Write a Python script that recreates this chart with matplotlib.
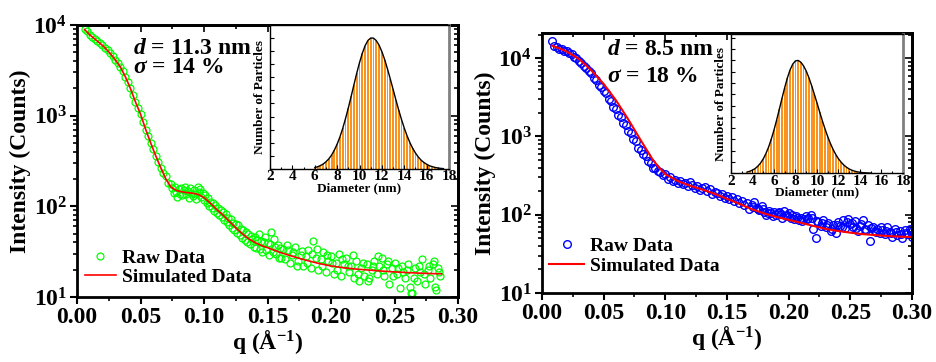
import matplotlib
matplotlib.use('Agg')
import matplotlib.pyplot as plt
from matplotlib.ticker import (FixedLocator, FixedFormatter, LogLocator, MultipleLocator,
                               NullFormatter, FormatStrFormatter)

plt.rcParams['font.family'] = 'Liberation Serif'
plt.rcParams['font.weight'] = 'bold'
plt.rcParams['axes.labelweight'] = 'bold'
plt.rcParams['mathtext.fontset'] = 'custom'
plt.rcParams['mathtext.rm'] = 'Liberation Serif:bold'
plt.rcParams['mathtext.bf'] = 'Liberation Serif:bold'
plt.rcParams['mathtext.it'] = 'Liberation Serif:italic:bold'

# ---------------- data: left panel (d = 11.3 nm) ----------------
q_raw_l = [0.006, 0.008, 0.010, 0.012, 0.014, 0.016, 0.018, 0.020, 0.022, 0.024, 0.026, 0.028,
           0.030, 0.032, 0.034, 0.036, 0.038, 0.040, 0.042, 0.044, 0.046, 0.048, 0.050, 0.052,
           0.054, 0.056, 0.058, 0.060, 0.062, 0.064, 0.066, 0.068, 0.070, 0.072,
           0.074, 0.075, 0.076, 0.077, 0.078, 0.079, 0.080, 0.081, 0.082, 0.083, 0.084, 0.085,
           0.086, 0.087, 0.088, 0.089, 0.090, 0.091, 0.092, 0.093, 0.094, 0.095, 0.096, 0.097,
           0.098, 0.099, 0.100, 0.101, 0.102, 0.103, 0.104, 0.105, 0.106, 0.107, 0.108, 0.109,
           0.110, 0.111, 0.112, 0.113, 0.114, 0.115, 0.116, 0.117, 0.118, 0.119, 0.120, 0.121,
           0.122, 0.123, 0.124, 0.125, 0.126, 0.127, 0.128, 0.129, 0.130, 0.131, 0.132, 0.133,
           0.134, 0.135, 0.136, 0.137, 0.138, 0.139, 0.140, 0.141, 0.142, 0.143, 0.144, 0.145,
           0.146, 0.147, 0.148, 0.149, 0.150, 0.151, 0.152, 0.153, 0.154, 0.155, 0.156, 0.157,
           0.158, 0.159, 0.160,
           0.162, 0.164, 0.166, 0.168, 0.170, 0.172, 0.174, 0.176, 0.178, 0.180, 0.182, 0.184,
           0.186, 0.188, 0.190, 0.192, 0.194, 0.196, 0.198, 0.200, 0.202, 0.204, 0.206, 0.208,
           0.210, 0.212, 0.214, 0.216, 0.218, 0.220, 0.222, 0.224, 0.226, 0.228, 0.230, 0.232,
           0.234, 0.236, 0.238, 0.240, 0.242, 0.244, 0.246, 0.248, 0.250, 0.252, 0.254, 0.256,
           0.258, 0.260, 0.262, 0.264, 0.266, 0.268, 0.270, 0.272, 0.274, 0.276, 0.278, 0.280,
           0.282, 0.284, 0.286,
           0.161, 0.165, 0.169, 0.173, 0.177, 0.181, 0.185, 0.189, 0.193, 0.197, 0.201, 0.205,
           0.209, 0.213, 0.217, 0.221, 0.225, 0.229, 0.233, 0.237, 0.241, 0.245, 0.249, 0.253,
           0.257, 0.261, 0.265, 0.269, 0.273, 0.277, 0.281, 0.285, 0.263, 0.283]
I_raw_l = [9000, 8500, 7800, 7400, 7000, 6700, 6300, 5950, 5600, 5250, 4870, 4500,
           4150, 3800, 3470, 3100, 2700, 2350, 2000, 1700, 1400, 1200, 1040, 860,
           700, 600, 500, 430, 360, 310, 265, 232, 215, 180,
           175, 158, 140, 162, 145, 128, 155, 138, 160, 132, 150, 165,
           136, 148, 125, 158, 142, 130, 152, 138, 120, 162, 145, 155,
           128, 140, 118, 132, 108, 125, 100, 112, 95, 110, 88, 104,
           85, 97, 80, 92, 76, 86, 70, 82, 68, 75, 62, 72,
           58, 66, 55, 64, 51, 62, 48, 56, 45, 55, 42, 52,
           40, 49, 38, 47, 44, 36, 46, 35, 42, 50, 34, 41,
           31, 40, 46, 33, 39, 29, 38, 52, 31, 44, 36, 30,
           37, 27, 35,
           34, 26, 33, 24, 31, 36, 25, 29, 22, 28, 33, 21,
           41, 27, 20, 26, 31, 19, 25, 28, 18, 24, 30, 17,
           23, 27, 19, 22, 16, 25, 15, 21, 17, 23, 16, 20,
           25, 18, 22, 27, 17, 23, 14, 21, 24, 18, 12.5, 22,
           16, 20, 13, 11, 21, 15, 19, 26, 14, 20, 16, 23,
           13, 21, 17,
           27, 37, 29, 22, 32, 24, 30, 34, 22, 29, 24, 20,
           26, 22, 29, 18, 24, 15, 22, 28, 20, 25, 17, 21,
           19, 23, 16, 22, 18, 22, 25, 19, 11, 12]

q_sim_l = [0.006, 0.010, 0.014, 0.018, 0.022, 0.026, 0.030, 0.034, 0.038, 0.042, 0.046, 0.050,
           0.054, 0.058, 0.062, 0.066, 0.070, 0.074, 0.078, 0.082, 0.086, 0.090, 0.095, 0.100,
           0.105, 0.110, 0.115, 0.120, 0.125, 0.130, 0.135, 0.140, 0.145, 0.150, 0.160, 0.170,
           0.180, 0.190, 0.200, 0.210, 0.220, 0.230, 0.240, 0.250, 0.260, 0.270, 0.280, 0.287]
I_sim_l = [8900, 7800, 7000, 6300, 5600, 4870, 4150, 3470, 2700, 2000, 1420, 1040,
           710, 500, 360, 265, 200, 163, 150, 145, 142, 140, 136, 125,
           108, 92, 80, 68, 58, 50, 44, 40, 37, 35, 31, 28,
           25.5, 23.5, 22, 21, 20.3, 19.8, 19.3, 18.9, 18.6, 18.3, 18.1, 18.0]

diam_l = [6.0, 6.25, 6.5, 6.75, 7.0, 7.25, 7.5, 7.75, 8.0, 8.25, 8.5, 8.75, 9.0, 9.25, 9.5, 9.75,
          10.0, 10.25, 10.5, 10.75, 11.0, 11.25, 11.5, 11.75, 12.0, 12.25, 12.5, 12.75, 13.0,
          13.25, 13.5, 13.75, 14.0, 14.25, 14.5, 14.75, 15.0, 15.25, 15.5, 15.75, 16.0, 16.25,
          16.5, 16.75, 17.0, 17.25, 17.5]
count_l = [0.011, 0.017, 0.026, 0.038, 0.055, 0.077, 0.106, 0.144, 0.190, 0.245, 0.310, 0.385,
           0.466, 0.553, 0.642, 0.730, 0.811, 0.882, 0.940, 0.979, 0.998, 0.997, 0.978, 0.943,
           0.894, 0.833, 0.762, 0.686, 0.607, 0.527, 0.450, 0.378, 0.312, 0.253, 0.202, 0.158,
           0.122, 0.092, 0.068, 0.050, 0.036, 0.025, 0.018, 0.012, 0.008, 0.005, 0.003]

# ---------------- data: right panel (d = 8.5 nm) ----------------
q_raw_r = [0.008, 0.010, 0.012, 0.014, 0.016, 0.018, 0.020, 0.022, 0.024, 0.026, 0.028, 0.030,
           0.032, 0.034, 0.036, 0.038, 0.040, 0.042, 0.044, 0.046, 0.048, 0.050, 0.052, 0.054,
           0.056, 0.058, 0.060, 0.062, 0.064, 0.066, 0.068, 0.070, 0.072, 0.074, 0.076, 0.078,
           0.080, 0.082, 0.084, 0.086, 0.088, 0.090, 0.092, 0.094, 0.096, 0.098, 0.100, 0.102,
           0.104, 0.106, 0.108, 0.110, 0.112, 0.114, 0.116, 0.118, 0.120, 0.122, 0.124, 0.126,
           0.128, 0.130, 0.132, 0.134, 0.136, 0.138, 0.140, 0.142, 0.144, 0.146, 0.148, 0.150,
           0.152, 0.154, 0.156, 0.158, 0.160, 0.162, 0.164, 0.166, 0.168, 0.170, 0.172, 0.174,
           0.176, 0.178, 0.180, 0.182, 0.184, 0.186, 0.188, 0.190, 0.192, 0.194, 0.196, 0.198,
           0.200, 0.202, 0.204, 0.206, 0.208, 0.210, 0.212, 0.214, 0.216, 0.218, 0.220, 0.222,
           0.224, 0.226, 0.228, 0.230, 0.232, 0.234, 0.236, 0.238, 0.240, 0.242, 0.244, 0.246,
           0.248, 0.250, 0.252, 0.254, 0.256, 0.258, 0.260, 0.262, 0.264, 0.266, 0.268, 0.270,
           0.272, 0.274, 0.276, 0.278, 0.280, 0.282, 0.284, 0.286, 0.288, 0.290, 0.292, 0.294,
           0.296, 0.298, 0.300,
           0.171, 0.175, 0.179, 0.183, 0.187, 0.191, 0.195, 0.199, 0.203, 0.207, 0.211, 0.215,
           0.219, 0.223, 0.227, 0.231, 0.235, 0.239, 0.243, 0.247, 0.251, 0.255, 0.259, 0.263,
           0.267, 0.271, 0.275, 0.279, 0.283, 0.287, 0.291, 0.295, 0.299]
I_raw_r = [16800, 14500, 14000, 13300, 13100, 12500, 12200, 11500, 11200, 10400, 10100, 9300,
           8800, 8000, 7600, 6800, 6400, 5600, 5200, 4600, 4350, 3850, 3550, 3050,
           2800, 2400, 2250, 1900, 1780, 1500, 1400, 1180, 1100, 930, 870, 720,
           680, 590, 570, 480, 460, 400, 395, 360, 355, 325, 330, 290,
           300, 270, 280, 255, 270, 245, 255, 232, 262, 240, 222, 235,
           205, 218, 225, 200, 212, 185, 198, 190, 172, 185, 165, 172,
           160, 168, 150, 158, 140, 148, 135, 142, 118, 135, 145, 122,
           115, 130, 108, 100, 112, 104, 110, 98, 108, 102, 112, 96,
           105, 92, 88, 95, 86, 92, 88, 95, 90, 100, 65, 50,
           80, 72, 86, 70, 78, 62, 74, 58, 80, 72, 85, 68,
           88, 76, 70, 82, 62, 72, 86, 66, 74, 46, 70, 62,
           66, 58, 64, 56, 70, 60, 52, 66, 55, 62, 50, 64,
           56, 66, 52,
           125, 118, 120, 106, 96, 104, 92, 100, 98, 90, 84, 88,
           92, 82, 78, 74, 66, 74, 70, 80, 78, 68, 76, 64,
           68, 60, 70, 62, 58, 60, 56, 58, 60]

q_sim_r = [0.008, 0.015, 0.020, 0.030, 0.040, 0.050, 0.060, 0.070, 0.080, 0.090, 0.095, 0.100,
           0.110, 0.120, 0.130, 0.140, 0.150, 0.160, 0.170, 0.180, 0.190, 0.200, 0.210, 0.220,
           0.230, 0.240, 0.250, 0.260, 0.270, 0.280, 0.290, 0.300]
I_sim_r = [14500, 13200, 12200, 9800, 7000, 4700, 2900, 1650, 900, 500, 400, 330,
           270, 235, 210, 185, 160, 138, 118, 104, 94, 86, 79, 72,
           66, 62, 59, 56.5, 55, 53.5, 52.5, 52]

diam_r = [3.5, 3.75, 4.0, 4.25, 4.5, 4.75, 5.0, 5.25, 5.5, 5.75, 6.0, 6.25, 6.5, 6.75, 7.0, 7.25,
          7.5, 7.75, 8.0, 8.25, 8.5, 8.75, 9.0, 9.25, 9.5, 9.75, 10.0, 10.25, 10.5, 10.75, 11.0,
          11.25, 11.5, 11.75, 12.0, 12.25, 12.5, 12.75, 13.0, 13.25, 13.5, 13.75, 14.0, 14.25,
          14.5, 14.75, 15.0]
count_r = [0.011, 0.018, 0.028, 0.042, 0.063, 0.090, 0.127, 0.174, 0.232, 0.302, 0.382, 0.472,
           0.567, 0.665, 0.759, 0.845, 0.916, 0.967, 0.995, 0.999, 0.983, 0.951, 0.905, 0.846,
           0.777, 0.701, 0.623, 0.543, 0.465, 0.392, 0.325, 0.264, 0.211, 0.166, 0.128, 0.098,
           0.073, 0.053, 0.038, 0.027, 0.019, 0.013, 0.009, 0.006, 0.004, 0.003, 0.002]

ytick_vals = [10, 100, 1000, 10000]
ytick_labels = [r'$10^{1}$', r'$10^{2}$', r'$10^{3}$', r'$10^{4}$']
inset_ticks = [2, 4, 6, 8, 10, 12, 14, 16, 18]

ORANGE = '#f7931e'


def style_main(ax, ytop):
    ax.set_yscale('log')
    ax.set_xlim(0, 0.30)
    ax.set_ylim(10, ytop)
    ax.xaxis.set_major_locator(MultipleLocator(0.05))
    ax.xaxis.set_minor_locator(MultipleLocator(0.025))
    ax.xaxis.set_major_formatter(FormatStrFormatter('%.2f'))
    ax.yaxis.set_major_locator(FixedLocator(ytick_vals))
    ax.yaxis.set_major_formatter(FixedFormatter(ytick_labels))
    ax.yaxis.set_minor_locator(LogLocator(base=10, subs=range(2, 10)))
    ax.yaxis.set_minor_formatter(NullFormatter())
    ax.tick_params(which='major', direction='out', length=5, width=1.5, labelsize=17, pad=2)
    ax.tick_params(which='minor', direction='out', length=3, width=1.2)
    for s in ax.spines.values():
        s.set_linewidth(2)
    # mirrored inward ticks on top and right
    sx = ax.secondary_xaxis('top')
    sx.xaxis.set_major_locator(MultipleLocator(0.05))
    sx.xaxis.set_minor_locator(MultipleLocator(0.025))
    sx.tick_params(which='both', direction='in', labeltop=False, width=1.2)
    sx.tick_params(which='major', length=5)
    sx.tick_params(which='minor', length=3)
    sy = ax.secondary_yaxis('right')
    sy.tick_params(which='both', direction='in', labelright=False, width=1.2)
    sy.tick_params(which='major', length=5)
    sy.tick_params(which='minor', length=3)
    for s in list(sx.spines.values()) + list(sy.spines.values()):
        s.set_linewidth(2)
    ax.set_ylabel('Intensity (Counts)', fontsize=17, labelpad=2)
    ax.set_xlabel(r'q ($\mathrm{\AA}^{-1}$)', fontsize=17, labelpad=0)


def style_inset(ax, ytop):
    ax.set_xlim(2, 18)
    ax.set_ylim(0, ytop)
    ax.set_xticks(inset_ticks)
    ax.xaxis.set_minor_locator(MultipleLocator(1))
    ax.yaxis.set_major_locator(MultipleLocator(0.1))
    ax.yaxis.set_major_formatter(NullFormatter())
    ax.tick_params(which='both', direction='in', labelsize=11, pad=1, width=0.8)
    ax.tick_params(which='major', length=3)
    ax.tick_params(which='minor', length=1.5)
    for s in ax.spines.values():
        s.set_linewidth(1)
    ax.spines['right'].set_color('#808080')
    ax.spines['right'].set_linewidth(2)
    ax.set_xlabel('Diameter (nm)', fontsize=9.5, labelpad=-1)
    ax.set_ylabel('Number of Particles', fontsize=9.5, labelpad=2)


fig = plt.figure(figsize=(9.37, 3.62), dpi=100)

# left panel
ax1 = fig.add_axes([0.0822, 0.1796, 0.4066, 0.7514])
ax1.plot(q_raw_l, I_raw_l, 'o', ms=5, mfc='none', mec='#00ff00', mew=0.9, label='Raw Data')
ax1.plot(q_sim_l, I_sim_l, '-', color='red', lw=1.2, label='Simulated Data')
style_main(ax1, 10000)
ax1.text(0.147, 0.915, r'$d$ = 11.3 nm', transform=ax1.transAxes, fontsize=17, va='center')
ax1.text(0.147, 0.842, r'$\sigma$ = 14 %', transform=ax1.transAxes, fontsize=17, va='center')
ax1.legend(loc='lower left', bbox_to_anchor=(0.02, 0.04), frameon=False, fontsize=14,
           handlelength=1.6, handletextpad=0.3, labelspacing=0.1, borderpad=0, borderaxespad=0)

ins1 = fig.add_axes([0.2882, 0.5331, 0.191, 0.3978])
ins1.bar(diam_l, count_l, width=0.17, color=ORANGE, linewidth=0)
ins1.plot(diam_l, count_l, '-', color='black', lw=1)
style_inset(ins1, 1.097)

# right panel
ax2 = fig.add_axes([0.5784, 0.1906, 0.3949, 0.7182])
ax2.plot(q_raw_r, I_raw_r, 'o', ms=5.5, mfc='none', mec='#0000ff', mew=1.0, label='Raw Data')
ax2.plot(q_sim_r, I_sim_r, '-', color='red', lw=1.5, label='Simulated Data')
style_main(ax2, 21000)
ax2.text(0.176, 0.935, r'$d$ = 8.5 nm', transform=ax2.transAxes, fontsize=17, va='center')
ax2.text(0.176, 0.831, r'$\sigma$ = 18 %', transform=ax2.transAxes, fontsize=17, va='center')
ax2.legend(loc='lower left', bbox_to_anchor=(0.02, 0.07), frameon=False, fontsize=14,
           handlelength=1.8, handletextpad=0.3, labelspacing=0.1, borderpad=0, borderaxespad=0)

ins2 = fig.add_axes([0.7801, 0.5213, 0.1836, 0.3848])
ins2.bar(diam_r, count_r, width=0.17, color=ORANGE, linewidth=0)
ins2.plot(diam_r, count_r, '-', color='black', lw=1)
style_inset(ins2, 1.233)

fig.savefig('out.png', dpi=100)
